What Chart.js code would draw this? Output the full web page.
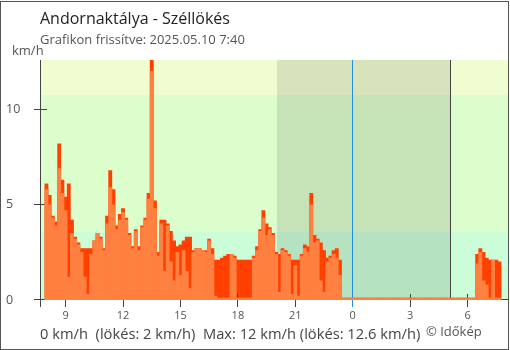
<!DOCTYPE html>
<html lang="hu">
<head>
<meta charset="utf-8">
<title>Andornaktálya - Széllökés</title>
<script src="https://cdn.jsdelivr.net/npm/chart.js@4"></script>
<style>
  html, body { margin: 0; padding: 0; background: #fff; }
  #wrap { position: relative; width: 510px; height: 350px; overflow: hidden; font-family: "Open Sans", "Noto Sans", sans-serif; }
  #chart { position: absolute; left: 0; top: 0; }
  #frame { position: absolute; left: 0; top: 1px; width: 509px; height: 349px; box-sizing: border-box; border: 1px solid #555; pointer-events: none; }
  .txt { position: absolute; white-space: pre; line-height: 0; }
</style>
</head>
<body>
<div id="wrap">
  <canvas id="chart" width="510" height="350"></canvas>
  <div class="txt" id="title" style="left:40px; top:17.8px; font-size:16px; color:#222;"></div>
  <div class="txt" id="subtitle" style="left:40px; top:39.3px; font-size:13px; color:#555;"></div>
  <div class="txt" id="unit" style="left:12px; top:50px; font-size:13px; color:#555;">km/h</div>
  <div class="txt" id="summary" style="left:40px; top:332.6px; font-size:14.7px; color:#444;"></div>
  <div class="txt" id="credit" style="left:426px; top:330.7px; font-size:13px; color:#555;">© Időkép</div>
  <div id="frame"></div>
</div>
<script>
// Station and update time
const STATION = 'Andornaktálya';
const UPDATED = '2025.05.10 7:40';

// 10-minute wind readings (km/h); first reading at 08:00, last at 07:40 next day
const FIRST_HOUR = 8;
const STEP_HOURS = 1 / 6;

// average wind speed
const speed = [
  5.8, 5.0, 4.3, 3.9, 6.9, 5.6, 4.7, 1.2, 3.5, 3.2,
  2.9, 2.5, 1.2, 0.3, 2.4, 3.1, 3.5, 3.2, 2.6, 4.0,
  5.9, 5.0, 3.7, 4.2, 4.6, 4.2, 3.4, 2.7, 3.6, 2.6,
  3.8, 4.2, 5.3, 12.0, 4.8, 2.3, 4.0, 1.5, 3.9, 2.0,
  1.0, 2.5, 1.3, 2.6, 1.5, 0.6, 2.5, 2.7, 2.7, 2.6,
  2.5, 3.1, 2.4, 0.2, 0, 0, 0, 0, 2.4, 2.2,
  0, 0, 0, 0, 0, 2.2, 2.6, 3.6, 4.3, 3.4,
  3.7, 3.4, 2.4, 0.4, 2.6, 2.5, 2.3, 0.3, 1.8, 0.2,
  2.3, 2.7, 2.5, 5.0, 3.0, 3.1, 1.0, 0.4, 2.0, 2.2,
  2.4, 2.2, 1.3, 0, 0, 0, 0, 0, 0, 0,
  0, 0, 0, 0, 0, 0, 0, 0, 0, 0,
  0, 0, 0, 0, 0, 0, 0, 0, 0, 0,
  0, 0, 0, 0, 0, 0, 0, 0, 0, 0,
  0, 0, 0, 0, 0, 1.9, 2.5, 1.0, 0.8, 0,
  2.1, 0, 0
];

// gusts
const gust = [
  6.1, 5.5, 4.4, 4.1, 8.2, 6.3, 5.4, 6.1, 4.2, 3.3,
  3.0, 2.7, 2.7, 2.7, 2.7, 3.1, 3.5, 3.3, 2.7, 4.4,
  6.8, 5.8, 3.9, 4.5, 4.8, 4.3, 3.5, 2.8, 3.7, 2.8,
  3.9, 4.3, 5.6, 12.6, 5.2, 2.5, 4.2, 4.2, 4.0, 3.6,
  3.1, 2.8, 2.9, 3.1, 3.3, 3.3, 2.6, 2.7, 2.7, 2.6,
  2.6, 3.2, 2.7, 2.1, 2.1, 2.2, 2.3, 2.4, 2.4, 2.3,
  2.1, 2.1, 2.1, 2.1, 2.1, 2.3, 2.8, 3.7, 4.7, 4.0,
  3.8, 3.5, 2.5, 2.4, 2.7, 2.6, 2.4, 2.1, 2.1, 2.1,
  2.4, 2.9, 2.8, 5.6, 3.4, 3.2, 3.0, 2.6, 2.2, 2.3,
  2.6, 2.7, 2.1, 0, 0, 0, 0, 0, 0, 0,
  0, 0, 0, 0, 0, 0, 0, 0, 0, 0,
  0, 0, 0, 0, 0, 0, 0, 0, 0, 0,
  0, 0, 0, 0, 0, 0, 0, 0, 0, 0,
  0, 0, 0, 0, 0, 2.4, 2.7, 2.5, 2.2, 2.1,
  2.1, 2.1, 2.0
];

// x-axis window (hours since the first midnight) and tick steps
const X_MIN = 7.689;
const X_MAX = 32.111;
const X_TICK_STEP = 3;
const Y_TICK_STEP = 5;

// sunset / sunrise and midnight (hours)
const SUNSET = 20.05;
const SUNRISE = 29.1;
const MIDNIGHT = 24;

// wind-strength bands (km/h): 1 m/s and 3 m/s
const BAND_LOW = 3.6;
const BAND_HIGH = 10.8;

// reading times on the hour axis
const times = speed.map((_, i) => FIRST_HOUR + i * STEP_HOURS);

const maxSpeed = Math.max(...speed);
const maxGust = Math.max(...gust);

document.getElementById('title').textContent = STATION + ' - Széllökés';
document.getElementById('subtitle').textContent = 'Grafikon frissítve: ' + UPDATED;
document.getElementById('summary').textContent =
  speed[speed.length - 1] + ' km/h  (lökés: ' + Math.round(gust[gust.length - 1]) + ' km/h)  Max: ' +
  maxSpeed + ' km/h (lökés: ' + maxGust + ' km/h)';

// background bands and night shading
const backdrop = {
  id: 'backdrop',
  beforeDatasetsDraw(chart) {
    const { ctx, chartArea: a, scales: { x, y } } = chart;
    const w = a.right - a.left;
    const hi = Math.ceil(y.getPixelForValue(BAND_HIGH));
    const lo = Math.ceil(y.getPixelForValue(BAND_LOW));
    ctx.save();
    ctx.fillStyle = '#f0fdd0';
    ctx.fillRect(a.left, a.top, w, hi - a.top);
    ctx.fillStyle = '#dcfdcc';
    ctx.fillRect(a.left, hi, w, lo - hi);
    ctx.fillStyle = '#cafdd8';
    ctx.fillRect(a.left, lo, w, a.bottom - lo);
    const n1 = Math.round(x.getPixelForValue(SUNSET));
    const n2 = Math.round(x.getPixelForValue(SUNRISE));
    ctx.fillStyle = 'rgba(0,0,0,0.1)';
    ctx.fillRect(n1, a.top, n2 - n1, a.bottom - a.top);
    ctx.restore();
  },
  // axes, ticks and marker lines sit between the gust and speed layers
  afterDatasetDraw(chart, args) {
    if (args.index !== 1) return;
    const { ctx, chartArea: a, scales: { x, y } } = chart;
    ctx.save();
    ctx.lineWidth = 1;
    ctx.strokeStyle = '#444';
    ctx.beginPath();
    const ax = Math.floor(a.left) + 0.5;
    const ay = Math.floor(a.bottom - 0.01) + 0.5;
    ctx.moveTo(ax, a.top);
    ctx.lineTo(ax, ay + 7.5);
    ctx.moveTo(a.left, ay);
    ctx.lineTo(a.right, ay);
    y.ticks.forEach(t => {
      const py = Math.floor(y.getPixelForValue(t.value) - 0.01) + 0.5;
      ctx.moveTo(ax - 6.5, py);
      ctx.lineTo(ax + 6.5, py);
    });
    x.ticks.forEach(t => {
      if (t.value === MIDNIGHT) return;
      const px = Math.floor(x.getPixelForValue(t.value)) + 0.5;
      ctx.moveTo(px, ay - 5.5);
      ctx.lineTo(px, ay + 7.5);
    });
    const sr = Math.floor(x.getPixelForValue(SUNRISE)) + 0.5;
    ctx.moveTo(sr, a.top);
    ctx.lineTo(sr, ay);
    ctx.stroke();
    const mn = Math.floor(x.getPixelForValue(MIDNIGHT)) + 0.5;
    ctx.strokeStyle = '#2090e0';
    ctx.beginPath();
    ctx.moveTo(mn, a.top);
    ctx.lineTo(mn, ay + 7.5);
    ctx.stroke();
    ctx.restore();
  }
};

const barStyle = {
  borderWidth: 0,
  minBarLength: 2,
  barPercentage: 1,
  categoryPercentage: 1,
  grouped: false
};

new Chart(document.getElementById('chart'), {
  type: 'bar',
  data: {
    datasets: [
      Object.assign({ label: 'Szél', data: speed.map((v, i) => ({ x: times[i], y: v })), backgroundColor: '#ff8040' }, barStyle),
      Object.assign({ label: 'Széllökés', data: gust.map((v, i) => ({ x: times[i], y: v })), backgroundColor: '#ff4000' }, barStyle)
    ]
  },
  options: {
    responsive: false,
    animation: false,
    devicePixelRatio: 1,
    events: [],
    layout: { padding: { left: 6, top: 60, right: 2, bottom: 0 } },
    plugins: { legend: { display: false }, tooltip: { enabled: false } },
    scales: {
      x: {
        type: 'linear',
        min: X_MIN,
        max: X_MAX,
        offset: false,
        grid: { display: false, offset: false, drawTicks: false },
        border: { display: false },
        ticks: {
          stepSize: X_TICK_STEP,
          includeBounds: false,
          autoSkip: false,
          maxRotation: 0,
          padding: 9,
          color: '#555',
          font: { family: '"Open Sans"', size: 11 },
          callback: v => String(v % 24)
        },
        afterFit: s => { s.height = 50; }
      },
      y: {
        min: 0,
        max: maxGust,
        grid: { display: false, drawTicks: false },
        border: { display: false },
        ticks: {
          stepSize: Y_TICK_STEP,
          includeBounds: false,
          crossAlign: 'far',
          color: '#555',
          font: { family: '"Open Sans"', size: 12.5 }
        },
        afterFit: s => { s.width = 34.5; }
      }
    }
  },
  plugins: [backdrop]
});
</script>
</body>
</html>
